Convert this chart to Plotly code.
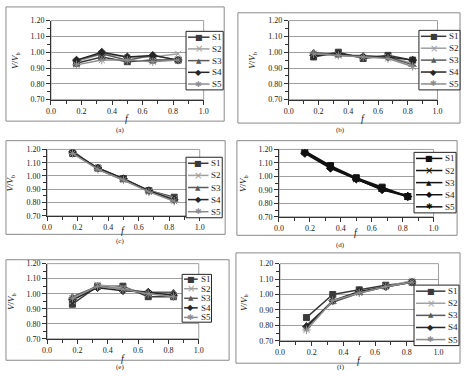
import plotly.graph_objects as go

W, H = 466, 376

f_vals = [0.167, 0.333, 0.5, 0.667, 0.833]
series_names = ["S1", "S2", "S3", "S4", "S5"]
panel_labels = ["(a)", "(b)", "(c)", "(d)", "(e)", "(f)"]
y_ticks = [0.70, 0.80, 0.90, 1.00, 1.10, 1.20]
x_ticks = [0.0, 0.2, 0.4, 0.6, 0.8, 1.0]

panel_a = [
    [0.93, 0.97, 0.94, 0.95, 0.95],
    [0.94, 0.99, 0.97, 0.97, 0.99],
    [0.95, 0.99, 0.95, 0.98, 0.95],
    [0.95, 1.00, 0.97, 0.98, 0.95],
    [0.92, 0.95, 0.95, 0.94, 0.95],
]
panel_b = [
    [0.97, 1.00, 0.96, 0.98, 0.95],
    [0.99, 0.98, 0.97, 0.97, 0.93],
    [1.00, 0.98, 0.98, 0.97, 0.92],
    [0.98, 0.99, 0.97, 0.97, 0.95],
    [0.99, 0.98, 0.97, 0.96, 0.91],
]
panel_c = [
    [1.17, 1.06, 0.98, 0.89, 0.84],
    [1.18, 1.06, 0.97, 0.89, 0.83],
    [1.19, 1.05, 0.97, 0.89, 0.82],
    [1.18, 1.06, 0.98, 0.89, 0.82],
    [1.17, 1.05, 0.97, 0.88, 0.81],
]
panel_d = [
    [1.19, 1.08, 0.99, 0.92, 0.85],
    [1.18, 1.07, 0.98, 0.91, 0.85],
    [1.18, 1.07, 0.98, 0.90, 0.86],
    [1.17, 1.06, 0.98, 0.90, 0.85],
    [1.18, 1.07, 0.98, 0.91, 0.85],
]
panel_e = [
    [0.93, 1.05, 1.05, 0.98, 0.98],
    [0.95, 1.06, 1.04, 1.00, 0.99],
    [0.98, 1.05, 1.03, 1.01, 1.01],
    [0.96, 1.04, 1.02, 1.01, 0.99],
    [0.97, 1.05, 1.03, 1.00, 0.98],
]
panel_f = [
    [0.85, 1.00, 1.03, 1.06, 1.08],
    [0.78, 0.96, 1.01, 1.05, 1.09],
    [0.80, 0.95, 1.01, 1.05, 1.08],
    [0.79, 0.96, 1.02, 1.05, 1.08],
    [0.77, 0.96, 1.01, 1.05, 1.08],
]
panels = [panel_a, panel_b, panel_c, panel_d, panel_e, panel_f]

# ---- styles ----
colors = ["#3a3a3a", "#a0a0a0", "#5a5a5a", "#262626", "#8c8c8c"]
symbols = ["square", "x-thin-open", "triangle-up", "diamond", "asterisk-open"]
msizes = [6, 6, 6, 6, 7]
legend_glyphs = ["■", "×", "▲", "◆", "✱"]
glyph_sizes = [8, 10, 7, 8, 8]

# plot areas in pixels: (x0, x1, ytop, ybottom)
plot_px = [
    (47, 203, 17, 98),
    (290, 442, 17, 98),
    (43, 199, 149, 217),
    (280, 438, 149, 218),
    (43, 198, 266, 343),
    (281, 443, 266, 345),
]
xtitle_off = [19, 19, 15, 16, 20, 20]
# chart boxes: (x0, x1, ytop, ybottom)
box_px = [
    (1, 224, 3, 120),
    (238, 465, 9, 122),
    (1, 225, 140, 236),
    (237, 462, 140, 237),
    (1, 229, 262, 365),
    (236, 465, 255, 368),
]
# legend boxes: (x0, x1, ytop, ybottom)
legend_px = [
    (185, 223, 28, 88),
    (423, 465, 27, 88),
    (185, 222, 157, 219),
    (418, 461, 152, 214),
    (181, 211, 277, 326),
    (418, 464, 288, 350),
]
label_px = [(118, 129), (343, 129), (118, 243), (343, 247), (118, 372), (343, 372)]

def fx(p):
    return p / W

def fy(p):
    return 1 - p / H

FONT = "Liberation Serif"
fig = go.Figure()
shapes = []
annotations = []
layout = dict(
    width=W, height=H, margin=dict(l=0, r=0, t=0, b=0),
    paper_bgcolor="white", plot_bgcolor="white",
    font=dict(family=FONT, size=8, color="#222222"),
    showlegend=False,
)

def ann(text, x, y, size, family=FONT, color="#222222", xanchor="center", angle=0):
    annotations.append(dict(text=text, x=fx(x), y=fy(y), xref="paper", yref="paper",
                            showarrow=False, xanchor=xanchor, yanchor="middle",
                            textangle=angle, borderpad=0,
                            font=dict(family=family, size=size, color=color)))

for i, data in enumerate(panels):
    n = i + 1
    xa = "x" if n == 1 else f"x{n}"
    ya = "y" if n == 1 else f"y{n}"
    pcolors = colors if i != 3 else ["#111111"] * 5
    for s, vals in enumerate(data):
        col = pcolors[s]
        fig.add_trace(go.Scatter(
            x=f_vals, y=vals, name=series_names[s], mode="lines+markers",
            xaxis=xa, yaxis=ya,
            line=dict(color=col, width=1.5),
            marker=dict(symbol=symbols[s], size=msizes[s], color=col,
                        line=dict(color=col, width=1)),
        ))
    x0, x1, yt, yb = plot_px[i]
    layout[f"xaxis{'' if n == 1 else n}"] = dict(
        domain=[fx(x0), fx(x1)], anchor=ya, range=[0, 1],
        tickvals=x_ticks, tickformat=".1f", ticks="outside", ticklen=4,
        showline=True, linecolor="#333333", linewidth=1, showgrid=False,
        zeroline=False, tickcolor="#333333",
        minor=dict(dtick=0.1, ticks="outside", ticklen=3, tickcolor="#333333"),
        tickfont=dict(family=FONT, size=8),
    )
    layout[f"yaxis{'' if n == 1 else n}"] = dict(
        domain=[fy(yb), fy(yt)], anchor=xa, range=[0.7, 1.2],
        tickvals=y_ticks, tickformat=".2f", ticks="outside", ticklen=4,
        showline=True, linecolor="#333333", linewidth=1,
        showgrid=True, gridcolor="#9f9f9f", gridwidth=1, zeroline=False,
        tickcolor="#333333",
        minor=dict(dtick=0.05, ticks="outside", ticklen=3, tickcolor="#333333", showgrid=False),
        tickfont=dict(family=FONT, size=8),
    )
    # plot area border
    shapes.append(dict(type="rect", xref="paper", yref="paper",
                       x0=fx(x0), x1=fx(x1), y0=fy(yb), y1=fy(yt),
                       line=dict(color="#9f9f9f", width=1), layer="below"))
    # chart box
    bx0, bx1, by0, by1 = box_px[i]
    shapes.append(dict(type="rect", xref="paper", yref="paper",
                       x0=fx(bx0), x1=fx(bx1), y0=fy(by1), y1=fy(by0),
                       line=dict(color="#8a8a8a", width=1), layer="below"))
    # axis titles
    ann("<i>f</i>", (x0 + x1) / 2, yb + xtitle_off[i], 10)
    ann("<i>V</i>/<i>V</i><sub>b</sub>", x0 - 37, (yt + yb) / 2, 9, angle=-90)
    # legend (compact, like the original)
    lx0, lx1, ly0, ly1 = legend_px[i]
    shapes.append(dict(type="rect", xref="paper", yref="paper",
                       x0=fx(lx0), x1=fx(lx1), y0=fy(ly1), y1=fy(ly0),
                       line=dict(color="#222222", width=1), fillcolor="white",
                       layer="above"))
    seg0 = lx0 + 2
    seg1 = lx1 - 14
    for s in range(5):
        cy = ly0 + (ly1 - ly0) * (s + 0.5) / 5
        col = pcolors[s]
        shapes.append(dict(type="line", xref="paper", yref="paper",
                           x0=fx(seg0), x1=fx(seg1), y0=fy(cy), y1=fy(cy),
                           line=dict(color=col, width=1.5), layer="above"))
        ann(legend_glyphs[s], (seg0 + seg1) / 2, cy, glyph_sizes[s],
            family="DejaVu Sans", color=col)
        ann(series_names[s], seg1 + 2, cy, 9, xanchor="left")
    px_, py_ = label_px[i]
    ann(panel_labels[i], px_, py_, 7)

layout["shapes"] = shapes
layout["annotations"] = annotations
fig.update_layout(**layout)
fig.write_html("out.html")
